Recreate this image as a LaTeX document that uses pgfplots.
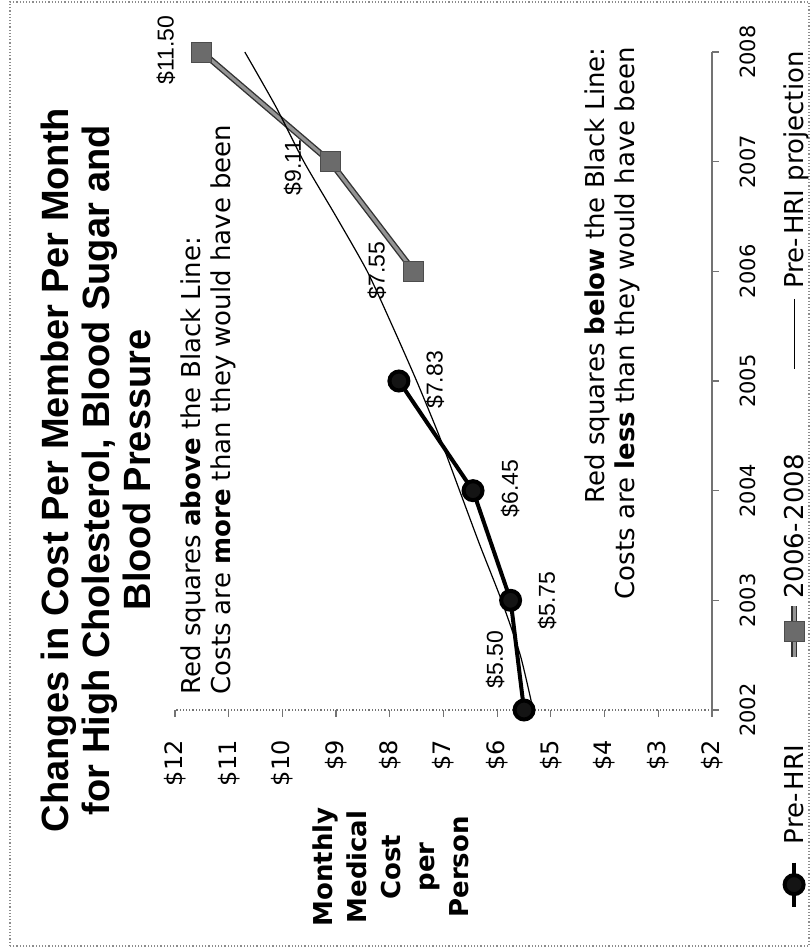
\documentclass[border=0pt]{standalone}
\usepackage{pgfplots}
\pgfplotsset{compat=1.18}
\usepackage{fontspec}
\setmainfont{DejaVu Sans}
\newfontfamily\arial{Liberation Sans}

\begin{document}
\begin{tikzpicture}[x=0.5pt,y=0.5pt]
\path[use as bounding box] (0,0) rectangle (811,948);
% page frame
\draw[black!45, densely dotted, line width=0.6pt] (10,2) rectangle (809,946);

\begin{axis}[
  at={(87.5pt,119pt)}, anchor=south west,
  scale only axis, width=268.5pt, height=329pt,
  xmin=2, xmax=12, x dir=reverse,
  ymin=2002, ymax=2008,
  axis x line*=bottom, axis y line*=right,
  x axis line style={black!55, densely dotted, line width=0.6pt},
  y axis line style={black!55, line width=0.6pt},
  xtick={2,3,4,5,6,7,8,9,10,11,12},
  xticklabels={\$2,\$3,\$4,\$5,\$6,\$7,\$8,\$9,\$10,\$11,\$12},
  ytick={2002,2003,2004,2005,2006,2007,2008},
  yticklabels={2002,2003,2004,2005,2006,2007,2008},
  tick align=outside, major tick length=3.5pt,
  tick style={black!55, line width=0.6pt},
  xticklabel style={yshift=-11.5pt, rotate=90, anchor=east, inner sep=0pt,
    font=\fontsize{12}{14}\selectfont},
  yticklabel style={xshift=10.5pt, rotate=90, anchor=north, inner sep=0pt,
    font=\fontsize{10.5}{12}\selectfont},
  clip=false,
  % legend set as one column of upright-reading entries, keys below the text;
  % each entry text sits in a box of fixed length so the spacing is exact
  reverse legend, legend cell align=left,
  legend style={at={(1.1527,-0.2052)}, anchor=south, inner sep=0pt,
    draw=none, fill=none, font=\fontsize{13}{15}\selectfont,
    row sep=0pt, column sep=0pt,
    nodes={rotate=90, inner sep=0pt, text depth=0pt},
    cells={anchor=west}},
]
% measured costs before the program
\addplot[black, line width=2pt, mark=*, mark size=4.75pt,
  mark options={fill=black!92, draw=black},
  legend image code/.code={\draw[overlay, mark repeat=2, mark phase=2]
    plot coordinates {(5pt,-9pt) (5pt,-20pt) (5pt,-31pt)};}]
  coordinates {(5.50,2002) (5.75,2003) (6.45,2004) (7.83,2005)};
\addlegendentry{\makebox[122.5pt][l]{Pre-\kern1.5pt HRI}}
% measured costs during the program
\addplot[black!42, line width=1.6pt, preaction={draw, black!80, line width=3pt},
  mark=square*, mark size=5pt,
  mark options={fill=black!58, draw=black!70, line width=0.5pt},
  legend image code/.code={\draw[overlay, mark repeat=2, mark phase=2]
    plot coordinates {(5pt,-3.5pt) (5pt,-16.25pt) (5pt,-29pt)};}]
  coordinates {(7.55,2006) (9.11,2007) (11.50,2008)};
\addlegendentry{\makebox[155pt][l]{2006-\kern1.5pt 2008}}
% trend expected without the program
\addplot[black, line width=0.6pt, smooth, tension=0.4,
  legend image code/.code={\draw[overlay] (5pt,-5pt) -- (5pt,-40pt);}]
  coordinates {(5.33,2002) (5.57,2002.5) (5.92,2003) (6.32,2003.5) (6.70,2004)
    (7.08,2004.5) (7.50,2005) (7.95,2005.5) (8.42,2006) (9.00,2006.5)
    (9.60,2007) (10.12,2007.5) (10.70,2008)};
\addlegendentry{\makebox[122pt][l]{Pre-\kern1.5pt HRI projection}}

% value labels
\begin{scope}[every node/.style={rotate=90, font=\arial\fontsize{11.5}{13}\selectfont}]
\node at (axis cs:6.04,2002.46) {\$5.50};
\node at (axis cs:5.07,2003.00) {\$5.75};
\node at (axis cs:5.76,2004.02) {\$6.45};
\node at (axis cs:7.16,2005.01) {\$7.83};
\node at (axis cs:8.24,2006.01) {\$7.55};
\node at (axis cs:9.80,2006.95) {\$9.11};
\node at (axis cs:12.17,2008.02) {\$11.50};
\end{scope}
\end{axis}

% title
\node[rotate=90, align=center, inner sep=0pt,
  font=\arial\bfseries\fontsize{19}{20.5}\selectfont] at (96,478)
  {Changes in Cost Per Member Per Month\\for High Cholesterol, Blood Sugar and\\Blood Pressure};
% value axis title
\node[rotate=90, align=center, inner sep=0pt,
  font=\bfseries\fontsize{13}{17}\selectfont] at (391,81)
  {Monthly\\Medical\\Cost\\per\\Person};
% notes
\node[rotate=90, anchor=west, align=left, inner sep=0pt,
  font=\fontsize{13}{15}\selectfont] at (208,253)
  {Red squares \textbf{above} the Black Line:\\Costs are \textbf{more} than they would have been};
\node[rotate=90, anchor=east, align=right, inner sep=0pt,
  font=\fontsize{13}{15}\selectfont] at (612,901)
  {Red squares \textbf{below} the Black Line:\\Costs are \textbf{less} than they would have been};
\end{tikzpicture}
\end{document}
